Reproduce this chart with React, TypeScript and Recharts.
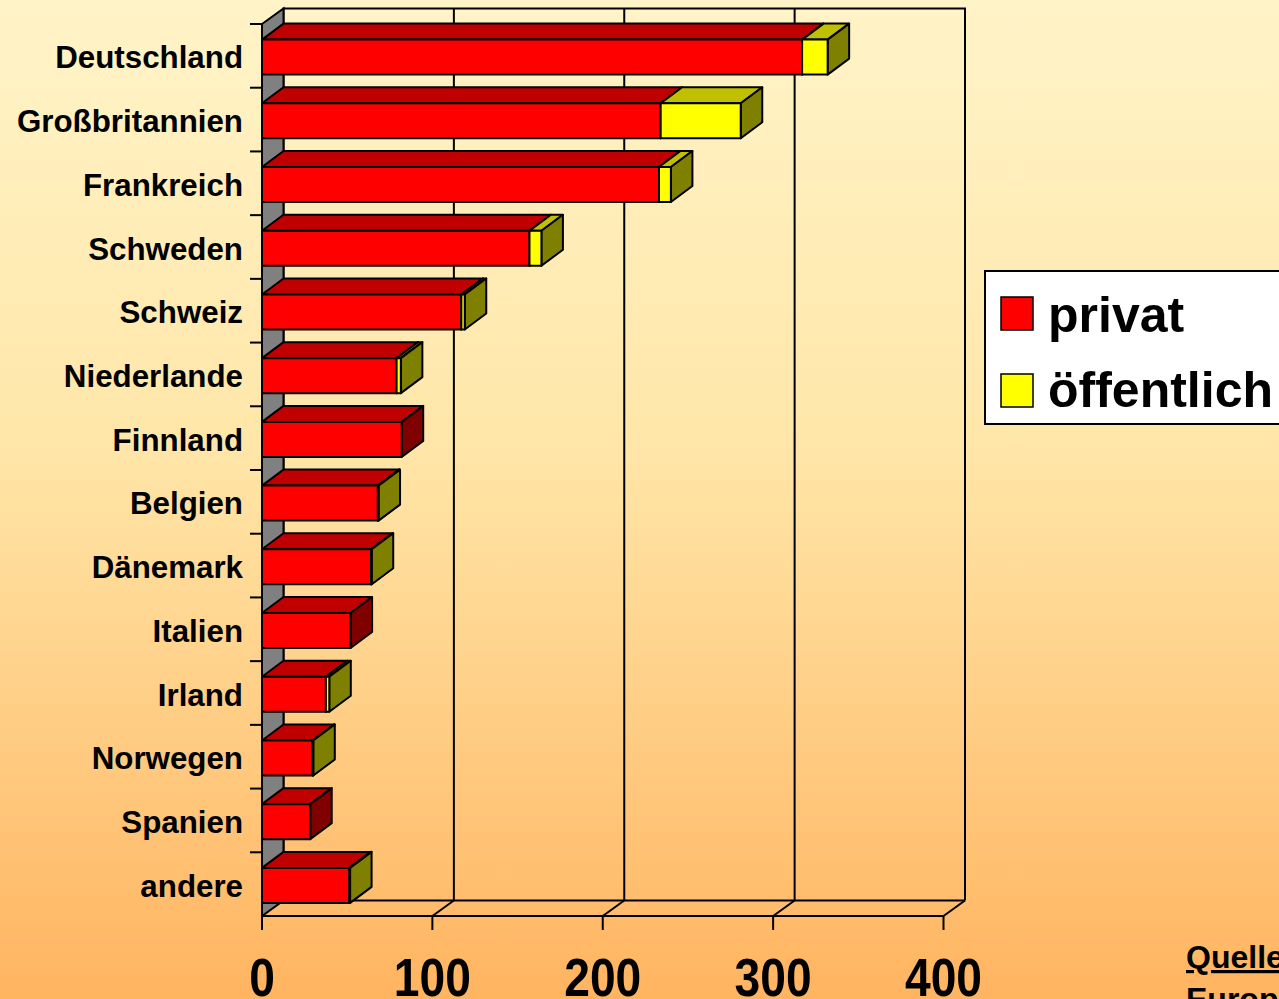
import React from 'react';
import { BarChart, Bar, XAxis, YAxis, Legend, Customized } from 'recharts';

// chart data
const categories = [
  'Deutschland', 'Großbritannien', 'Frankreich', 'Schweden', 'Schweiz', 'Niederlande', 'Finnland',
  'Belgien', 'Dänemark', 'Italien', 'Irland', 'Norwegen', 'Spanien', 'andere',
];
const privat = [317, 234, 233, 157, 117, 79, 82, 68, 64, 52, 37.5, 29.7, 28.3, 51.3];
const oeffentlich = [15, 47, 7, 7, 2, 2.5, 0, 0.4, 0.4, 0, 2, 0.4, 0, 0.4];
const xTicks = [0, 100, 200, 300, 400];

const data = categories.map((name, i) => ({ name, privat: privat[i], oeffentlich: oeffentlich[i] }));

const W = 1279;
const H = 999;
const FONT = '"Liberation Sans", Arial, Helvetica, sans-serif';

// front plane of the plot and 3D depth
const X0 = 262;
const X1 = 943.5;
const Y0 = 24;
const Y1 = 916;
const DX = 21.5;
const DY = 15.5;

const RED = { front: '#FF0000', top: '#C00000', side: '#800000' };
const YELLOW = { front: '#FFFF00', top: '#C0C000', side: '#808000' };

const makeBox = (c: typeof RED) => (props: any) => {
  const { x, width, height } = props;
  if (!width || width < 0.05) return <g />;
  const y = props.y + 1.6;
  const bx = 21.5;
  const by = 16;
  return (
    <g stroke="#000" strokeWidth={2} strokeLinejoin="round">
      <polygon points={`${x},${y} ${x + width},${y} ${x + width + bx},${y - by} ${x + bx},${y - by}`} fill={c.top} />
      <polygon
        points={`${x + width},${y} ${x + width + bx},${y - by} ${x + width + bx},${y + height - by} ${x + width},${y + height}`}
        fill={c.side}
      />
      <rect x={x} y={y} width={width} height={height} fill={c.front} />
    </g>
  );
};

const toPx = (v: number) => X0 + (v / 400) * (X1 - X0);

const Walls = () => {
  const band = (Y1 - Y0) / categories.length;
  return (
    <g>
      {/* back wall */}
      <polyline points={`${X0 + DX},${Y1 - DY} ${X0 + DX},${Y0 - DY} ${X1 + DX},${Y0 - DY} ${X1 + DX},${Y1 - DY}`} fill="none" stroke="#000" strokeWidth={2} />
      {xTicks.slice(1, -1).map((t) => (
        <line key={t} x1={toPx(t) + DX} y1={Y0 - DY} x2={toPx(t) + DX} y2={Y1 - DY} stroke="#000" strokeWidth={2} />
      ))}
      {/* floor */}
      <line x1={X0 + DX} y1={Y1 - DY} x2={X1 + DX} y2={Y1 - DY} stroke="#000" strokeWidth={2} />
      {xTicks.slice(1).map((t) => (
        <line key={t} x1={toPx(t)} y1={Y1} x2={toPx(t) + DX} y2={Y1 - DY} stroke="#000" strokeWidth={2} />
      ))}
      {/* left wall */}
      <polygon points={`${X0},${Y0} ${X0 + DX},${Y0 - DY} ${X0 + DX},${Y1 - DY} ${X0},${Y1}`} fill="#808080" stroke="#000" strokeWidth={2} />
      {categories.map((_, i) => (
        <line key={i} x1={X0 - 12} y1={Y0 + i * band} x2={X0} y2={Y0 + i * band} stroke="#000" strokeWidth={2} />
      ))}
      <text x={1186} y={968} fontFamily={FONT} fontWeight="bold" fontSize={32} textDecoration="underline">
        Quelle:
      </text>
      <text x={1186} y={1010} fontFamily={FONT} fontWeight="bold" fontSize={32}>
        European Venture Capital Association
      </text>
    </g>
  );
};

const CategoryTick = (props: any) => {
  const { x, y, payload } = props;
  return (
    <text x={x} y={y + 12.6} textAnchor="end" fontFamily={FONT} fontWeight="bold" fontSize={31.3} fill="#000">
      {payload.value}
    </text>
  );
};

const ValueTick = (props: any) => {
  const { x, payload } = props;
  const s = String(payload.value);
  return (
    <text
      x={x}
      y={996}
      textAnchor="middle"
      fontFamily={FONT}
      fontWeight="bold"
      fontSize={54}
      fill="#000"
      textLength={s.length * 25.7}
      lengthAdjust="spacingAndGlyphs"
    >
      {s}
    </text>
  );
};

const LegendBox = () => (
  <svg width={320} height={156} style={{ display: 'block' }}>
    <rect x={1} y={1} width={318} height={153} fill="#fff" stroke="#000" strokeWidth={2} />
    <rect x={17} y={27} width={32} height={33} fill={RED.front} stroke="#000" strokeWidth={1.5} />
    <rect x={17} y={104} width={32} height={33} fill={YELLOW.front} stroke="#000" strokeWidth={1.5} />
    <text x={64} y={62} fontFamily={FONT} fontWeight="bold" fontSize={50}>privat</text>
    <text x={64} y={137} fontFamily={FONT} fontWeight="bold" fontSize={50}>öffentlich</text>
  </svg>
);

export default function App() {
  return (
    <div
      style={{
        position: 'absolute',
        left: 0,
        top: 0,
        width: W,
        height: H,
        overflow: 'hidden',
        background: 'linear-gradient(#FFF4C8 0%, #FFE6A8 45%, #FFB460 100%)',
      }}
    >
      <BarChart
        width={W}
        height={H}
        data={data}
        layout="vertical"
        margin={{ top: Y0, right: W - X1, bottom: 0, left: 0 }}
        barSize={35}
      >
        <Customized component={Walls} />
        <XAxis
          type="number"
          domain={[0, 400]}
          ticks={xTicks}
          interval={0}
          height={H - Y1}
          tickSize={14}
          tickMargin={0}
          stroke="#000"
          axisLine={{ stroke: '#000', strokeWidth: 2 }}
          tickLine={{ stroke: '#000', strokeWidth: 2 }}
          tick={<ValueTick />}
        />
        <YAxis
          type="category"
          dataKey="name"
          width={X0}
          interval={0}
          tickSize={0}
          tickMargin={19}
          axisLine={false}
          tickLine={false}
          tick={<CategoryTick />}
        />
        <Legend
          layout="vertical"
          align="center"
          verticalAlign="middle"
          content={() => <LegendBox />}
          wrapperStyle={{ position: 'absolute', left: 984, top: 270, width: 320, height: 156 }}
        />
        <Bar dataKey="privat" name="privat" stackId="a" isAnimationActive={false} shape={makeBox(RED)} />
        <Bar dataKey="oeffentlich" name="öffentlich" stackId="a" isAnimationActive={false} shape={makeBox(YELLOW)} />
      </BarChart>
    </div>
  );
}
